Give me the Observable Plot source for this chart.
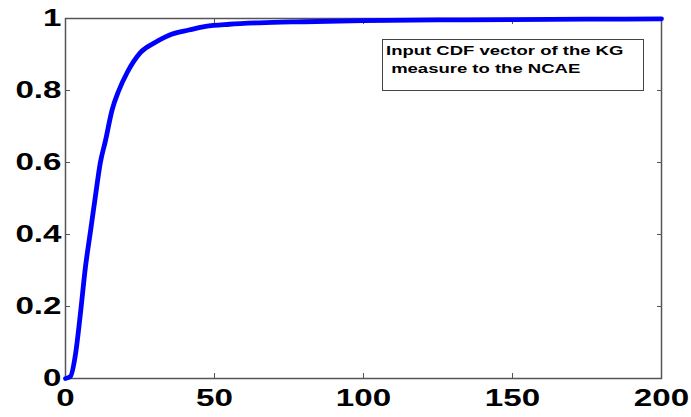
<!DOCTYPE html>
<html>
<head>
<meta charset="utf-8">
<script src="https://cdn.jsdelivr.net/npm/d3@7"></script>
<script src="https://cdn.jsdelivr.net/npm/@observablehq/plot@0.6"></script>
<style>
  html, body { margin: 0; padding: 0; background: #fff; }
  #wrap { position: relative; width: 691px; height: 417px; }
  #legend {
    position: absolute; left: 382px; top: 39px; width: 262px; height: 52px;
    border: 1px solid #444; background: #fff; box-sizing: border-box;
    font-family: "Liberation Sans", Arial, sans-serif; font-weight: bold; font-size: 13.5px;
    color: #000;
  }
  #legend span {
    position: absolute; white-space: pre; display: inline-block;
    transform: scaleX(1.37); transform-origin: left center; line-height: 1;
  }
</style>
</head>
<body>
<div id="wrap"></div>
<script>
const xs = [0, 1.6, 3.4, 5.0, 6.7, 8.4, 10.1, 11.7, 13.4, 15.6, 17.9, 20.7, 25.2, 30.2, 35.8, 41.4, 47, 55, 65, 80, 100, 125, 150, 175, 200];
const ys = [0, 0.005, 0.07, 0.18, 0.31, 0.41, 0.51, 0.60, 0.66, 0.745, 0.80, 0.85, 0.906, 0.934, 0.957, 0.968, 0.978, 0.984, 0.988, 0.991, 0.994, 0.996, 0.997, 0.998, 0.999];
const xTicks = [0, 50, 100, 150, 200];
const yTicks = [0, 0.2, 0.4, 0.6, 0.8, 1];
const legendLines = ["Input CDF vector of the KG", " measure to the NCAE"];

const data = xs.map((x, i) => ({x, y: ys[i]}));

const chart = Plot.plot({
  width: 691,
  height: 417,
  marginLeft: 65,
  marginRight: 30,
  marginTop: 18,
  marginBottom: 39,
  style: {fontFamily: "'Liberation Sans', Arial, sans-serif", fontWeight: "bold", fontSize: "24px", color: "#000", background: "#fff"},
  x: {domain: [0, 200]},
  y: {domain: [0, 1]},
  marks: [
    Plot.axisX({ticks: xTicks, tickSize: -5, tickPadding: 15, stroke: "#555", label: null, tickFormat: d => String(d)}),
    Plot.axisX({anchor: "top", ticks: xTicks, tickSize: -5, stroke: "#555", label: null, tickFormat: () => ""}),
    Plot.axisY({ticks: yTicks, tickSize: -5, tickPadding: 9, stroke: "#555", label: null, tickFormat: d => String(d)}),
    Plot.axisY({anchor: "right", ticks: yTicks, tickSize: -5, stroke: "#555", label: null, tickFormat: () => ""}),
    Plot.frame({stroke: "#555", strokeWidth: 1.5}),
    Plot.line(data, {x: "x", y: "y", stroke: "#0000ff", strokeWidth: 4.8, curve: "monotone-x"})
  ]
});
const wrap = document.getElementById("wrap");
wrap.appendChild(chart);
// widen tick labels horizontally like the reference
chart.querySelectorAll("text").forEach(t => {
  if (!t.textContent) return;
  const w = t.getComputedTextLength();
  if (w > 0) {
    t.setAttribute("textLength", (w * 1.38).toFixed(1));
    t.setAttribute("lengthAdjust", "spacingAndGlyphs");
  }
});
const leg = document.createElement("div");
leg.id = "legend";
legendLines.forEach((line, i) => {
  const s = document.createElement("span");
  s.textContent = line;
  s.style.left = "3px";
  s.style.top = (4 + i * 18) + "px";
  leg.appendChild(s);
});
wrap.appendChild(leg);
</script>
</body>
</html>
